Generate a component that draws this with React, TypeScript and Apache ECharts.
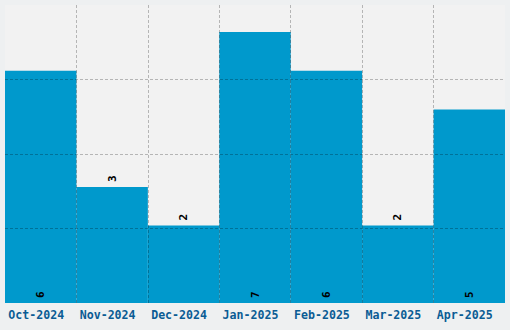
import React, { useEffect, useRef } from "react";
import * as echarts from "echarts";

const categories = ["Oct-2024", "Nov-2024", "Dec-2024", "Jan-2025", "Feb-2025", "Mar-2025", "Apr-2025"];
const values = [6, 3, 2, 7, 6, 2, 5];

export default function App() {
  const ref = useRef<HTMLDivElement>(null);
  useEffect(() => {
    if (!ref.current) return;
    const chart = echarts.init(ref.current, null, { renderer: "svg" });
    const maxV = Math.max(...values) * 1.1;
    const gridLine = { color: "rgba(0,0,0,0.25)", type: [3, 2], width: 1 };
    chart.setOption({
      animation: false,
      backgroundColor: "#eef0f1",
      grid: {
        left: 5,
        right: 5,
        top: 5,
        bottom: 27,
        show: true,
        backgroundColor: "#f2f2f2",
        borderWidth: 0,
      },
      xAxis: {
        type: "category",
        data: categories,
        z: 10,
        axisLine: { show: false },
        axisTick: { show: false },
        axisLabel: {
          interval: 0,
          color: "#0a5c94",
          fontFamily: "DejaVu Sans Mono",
          fontWeight: "bold",
          fontSize: 11.6,
          margin: 6,
          padding: [0, 9, 0, 0],
        },
        splitLine: {
          show: true,
          interval: 0,
          showMinLine: false,
          showMaxLine: false,
          lineStyle: gridLine,
        },
      },
      yAxis: {
        type: "value",
        min: 0,
        max: maxV,
        interval: maxV / 4,
        z: 10,
        axisLine: { show: false },
        axisTick: { show: false },
        axisLabel: { show: false },
        splitLine: {
          show: true,
          showMinLine: false,
          showMaxLine: false,
          lineStyle: gridLine,
        },
      },
      series: [
        {
          type: "bar",
          barWidth: "100%",
          barCategoryGap: 0,
          itemStyle: { color: "#0099cc" },
          data: values.map((v) => ({
            value: v,
            label: {
              show: true,
              position: v >= 4 ? "insideBottom" : "top",
              distance: 5,
              rotate: 90,
              align: "left",
              verticalAlign: "middle",
              color: "#000",
              fontFamily: "DejaVu Sans Mono",
              fontWeight: "bold",
              fontSize: 11,
            },
          })),
        },
      ],
    });
    return () => chart.dispose();
  }, []);
  return <div ref={ref} style={{ width: 510, height: 330, position: "absolute", left: 0, top: 0 }} />;
}
